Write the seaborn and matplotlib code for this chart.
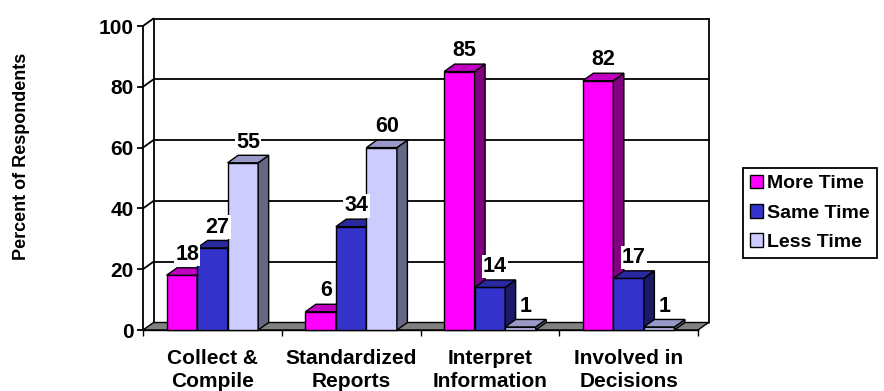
import numpy as np
import pandas as pd
import matplotlib
matplotlib.use('Agg')
import matplotlib.pyplot as plt
import seaborn as sns
from matplotlib.patches import Polygon, Patch

# data
categories = ['Collect &\nCompile', 'Standardized\nReports',
              'Interpret\nInformation', 'Involved in\nDecisions']
series = ['More Time', 'Same Time', 'Less Time']
more_time = [18, 6, 85, 82]
same_time = [27, 34, 14, 17]
less_time = [55, 60, 1, 1]
y_ticks = [0, 20, 40, 60, 80, 100]

front_colors = ['#FF00FF', '#3333CC', '#CCCCFF']
top_colors = ['#C000C0', '#28289F', '#9999C8']
side_colors = ['#800080', '#1A1A66', '#666685']

df = pd.DataFrame({
    'Category': categories * 3,
    'Series': np.repeat(series, len(categories)),
    'Percent': more_time + same_time + less_time,
})

sns.set_style('white')
plt.rcParams['font.family'] = ['Liberation Sans', 'DejaVu Sans']
plt.rcParams['font.weight'] = 'bold'
for k in ['text.color', 'axes.labelcolor', 'xtick.color', 'ytick.color', 'axes.edgecolor']:
    plt.rcParams[k] = 'black'

fig = plt.figure(figsize=(8.84, 3.91), dpi=100)
ax = fig.add_axes([143 / 884, 1 - 330 / 391, 555 / 884, 304 / 391])

sns.barplot(data=df, x='Category', y='Percent', hue='Series', palette=front_colors,
            width=0.66, saturation=1, edgecolor='black', linewidth=1,
            legend=False, ax=ax)

ax.set_xlim(-0.5, 3.5)
ax.set_ylim(0, 100)
ax.set_yticks(y_ticks)

# depth of the 3D effect in data units (~10.5 px right, 7.5 px up)
dx = 10.5 / (555 / 4)
dy = 7.5 / (304 / 100)
lw = 1.3

# floor
ax.add_patch(Polygon([(-0.5, 0), (3.5, 0), (3.5 + dx, dy), (-0.5 + dx, dy)],
                     fc='#808080', ec='black', lw=1, zorder=2, clip_on=False))

# back wall gridlines, side wall diagonals and wall edges
for v in y_ticks[1:]:
    ax.plot([-0.5 + dx, 3.5 + dx], [v + dy, v + dy], color='black', lw=lw, zorder=1, clip_on=False)
    ax.plot([-0.5, -0.5 + dx], [v, v + dy], color='black', lw=lw, zorder=1, clip_on=False)
for xe in [-0.5 + dx, 3.5 + dx]:
    ax.plot([xe, xe], [dy, 100 + dy], color='black', lw=lw, zorder=1, clip_on=False)

# 3D faces and value labels
for i, cont in enumerate(ax.containers):
    for bar, val in zip(cont, cont.datavalues):
        x0, w, h = bar.get_x(), bar.get_width(), bar.get_height()
        z = 3 + (x0 + 1) * 0.1
        bar.set_zorder(z)
        bar.set_clip_on(False)
        ax.add_patch(Polygon([(x0 + w, 0), (x0 + w + dx, dy), (x0 + w + dx, h + dy), (x0 + w, h)],
                             fc=side_colors[i], ec='black', lw=1, zorder=z, clip_on=False))
        ax.add_patch(Polygon([(x0, h), (x0 + w, h), (x0 + w + dx, h + dy), (x0 + dx, h + dy)],
                             fc=top_colors[i], ec='black', lw=1, zorder=z, clip_on=False))
        ax.annotate(f'{val:g}', (x0 + (w + dx) / 2, h + dy), xytext=(0, 2),
                    textcoords='offset points', ha='center', va='bottom',
                    fontsize=15.5, fontweight='bold', zorder=10, annotation_clip=False,
                    bbox=dict(fc='white', ec='none', pad=1))

sns.despine(ax=ax, top=True, right=True)
ax.spines['left'].set_linewidth(lw)
ax.spines['bottom'].set_linewidth(1)
ax.spines['left'].set_zorder(2.5)
ax.set_xlabel('')
ax.set_ylabel('')

ax.set_xticks([-0.5, 0.5, 1.5, 2.5, 3.5], minor=True)
ax.tick_params(axis='x', which='major', bottom=True, length=0, pad=14, labelsize=15)
ax.tick_params(axis='x', which='minor', bottom=True, length=4, width=1)
ax.tick_params(axis='y', left=True, length=4.5, width=lw, pad=2, labelsize=15)
for t in ax.get_xticklabels() + ax.get_yticklabels():
    t.set_fontweight('bold')
for t in ax.get_xticklabels():
    t.set_linespacing(1.25)

fig.text(22 / 884, 1 - 156 / 391, 'Percent of Respondents', rotation=90,
         ha='center', va='center', fontsize=13, fontweight='bold')

handles = [Patch(fc=c, ec='black', lw=1) for c in front_colors]
leg = fig.legend(handles, series, loc='upper left', bbox_to_anchor=(743 / 884, 1 - 168 / 391),
                 frameon=True, fancybox=False, edgecolor='black', framealpha=1,
                 prop={'weight': 'bold', 'size': 14}, handlelength=0.7, handleheight=0.7,
                 handletextpad=0.2, labelspacing=0.6, borderpad=0.35, borderaxespad=0)
leg.get_frame().set_linewidth(lw)

fig.savefig('out.png', dpi=100)
